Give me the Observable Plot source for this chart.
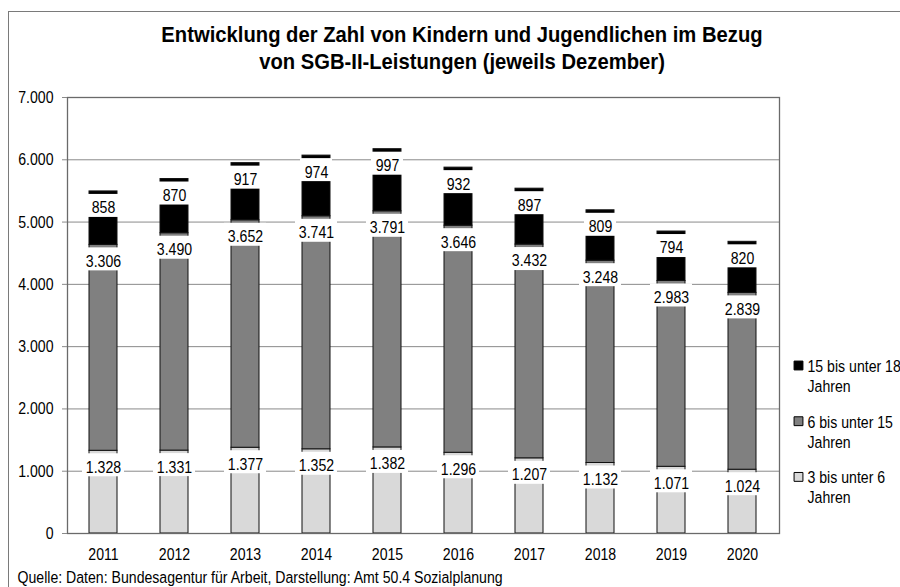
<!DOCTYPE html>
<html><head><meta charset="utf-8">
<script src="https://cdn.jsdelivr.net/npm/d3@7"></script>
<script src="https://cdn.jsdelivr.net/npm/@observablehq/plot@0.6"></script>
<style>
html,body{margin:0;padding:0;background:#fff;}
#wrap{position:relative;width:900px;height:587px;overflow:hidden;background:#fff;}
#wrap svg{position:absolute;left:0;top:0;}
#border{position:absolute;left:8px;top:11px;width:1000px;height:1000px;border-left:1px solid #7a7a7a;border-top:1px solid #7a7a7a;}
</style></head><body>
<div id="wrap"><div id="border"></div></div>
<script>
const years = ["2011","2012","2013","2014","2015","2016","2017","2018","2019","2020"];
const groups = ["3 bis unter 6 Jahren","6 bis unter 15 Jahren","15 bis unter 18 Jahren"];
const colors = ["#d9d9d9","#808080","#000000"];
const age3to6   = [1328,1331,1377,1352,1382,1296,1207,1132,1071,1024];
const age6to15  = [3306,3490,3652,3741,3791,3646,3432,3248,2983,2839];
const age15to18 = [858,870,917,974,997,932,897,809,794,820];
const yTicks = [0,1000,2000,3000,4000,5000,6000,7000];
const titleLines = ["Entwicklung der Zahl von Kindern und Jugendlichen im Bezug","von SGB-II-Leistungen (jeweils Dezember)"];
const caption = "Quelle: Daten: Bundesagentur für Arbeit, Darstellung: Amt 50.4 Sozialplanung";

const series = [age3to6, age6to15, age15to18];
const de = d3.formatLocale({decimal:",", thousands:".", grouping:[3], currency:["","€"]});
const fmt = de.format(",d");

const rows = [];
years.forEach((yr, i) => {
  let acc = 0;
  series.forEach((s, g) => {
    rows.push({year: yr, group: groups[g], value: s[i], y1: acc, y2: acc + s[i]});
    acc += s[i];
  });
});
const wideRows = rows.filter(r => r.group !== groups[2]);
const narrowRows = rows.filter(r => r.group === groups[2]);
const legendOrder = groups.slice().reverse();

const legendMarks = [];
legendOrder.forEach((g, i) => {
  legendMarks.push(Plot.dot([g], {frameAnchor:"top-right", dx:19, dy:268 + i*55.7, symbol:"square", r:5, fill: colors[groups.indexOf(g)], stroke:"#000", strokeWidth:1}));
  legendMarks.push(Plot.text([g], {frameAnchor:"top-right", dx:28, dy:278 + i*55.7, text: d => d.replace(" Jahren", "\nJahren"), textAnchor:"start", lineAnchor:"middle", lineHeight:1.176, fontSize:17, fill:"#000"}));
});

const chart = Plot.plot({
  width: 900,
  height: 587,
  marginLeft: 67,
  marginRight: 121,
  marginTop: 97,
  marginBottom: 54,
  style: {fontFamily: "'Liberation Sans', Arial, sans-serif", fontSize: "17px", color: "#000", background: "transparent", overflow: "visible"},
  x: {type: "band", domain: years, paddingInner: 0.6, paddingOuter: 0.3, label: null},
  y: {domain: [0, 7000], label: null},
  color: {domain: groups, range: colors},
  marks: [
    Plot.gridY(yTicks.filter(t => t > 0 && t < 7000), {stroke: "#8a8a8a", strokeOpacity: 1, strokeWidth: 1}),
    Plot.barY(rows, {x: "year", y1: "y1", y2: "y2", fill: "group", stroke: "#111", strokeWidth: 1}),
    Plot.barY(wideRows, {x: "year", y1: "y2", y2: "y2", insetTop: -12, insetBottom: -11, insetLeft: -7, insetRight: -7, dy: 15, fill: "#fff"}),
    Plot.barY(narrowRows, {x: "year", y1: "y2", y2: "y2", insetTop: -12, insetBottom: -11, insetLeft: -2, insetRight: -2, dy: 15, fill: "#fff"}),
    Plot.text(rows, {x: "year", y: "y2", text: d => fmt(d.value), dy: 16.5, fontSize: 17, fill: "#000"}),
    Plot.frame({stroke: "#6a6a6a", strokeWidth: 1.3}),
    Plot.axisY({ticks: yTicks, tickFormat: fmt, tickSize: 5, tickPadding: 9, stroke: "#8a8a8a", fill: "#000", fontSize: 17, label: null}),
    Plot.axisX({tickSize: 0, tickPadding: 14, fontSize: 17, fill: "#000", label: null}),
    Plot.text([titleLines.join("\n")], {frameAnchor: "top", dx: 38.5, dy: -50.5, text: d => d, lineAnchor: "middle", fontSize: 22, fontWeight: "bold", lineHeight: 1.21, fill: "#000"}),
    ...legendMarks,
    Plot.text([caption], {frameAnchor: "bottom-left", dx: -50, dy: 44.5, text: d => d, textAnchor: "start", lineAnchor: "middle", fontSize: 17, fill: "#000"})
  ]
});
document.getElementById("wrap").appendChild(chart);
chart.querySelectorAll("text").forEach(t => {
  const isTitle = t.textContent.indexOf(titleLines[0]) >= 0;
  const s = isTitle ? 0.92 : 0.83;
  const x = +(t.getAttribute("x") || 0);
  const tr = t.getAttribute("transform") || "";
  t.setAttribute("transform", `${tr} translate(${x},0) scale(${s},1) translate(${-x},0)`);
});
</script>
</body></html>
